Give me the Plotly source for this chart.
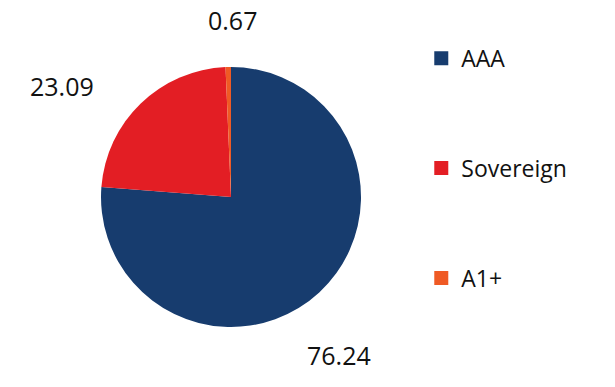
import math
import plotly.graph_objects as go

categories = ["AAA", "Sovereign", "A1+"]
values = [76.24, 23.09, 0.67]
colors = ["#173c6e", "#e31e24", "#ef5a24"]

W, H = 615, 387
cx, cy, R = 231, 197, 130          # pie centre / radius in pixels
label_r = 190                      # label distance from centre in pixels
label_nudge = [(-21, 19), (-37, 26), (5, 13)]   # style tweaks (px)

fig = go.Figure()
fig.add_trace(go.Pie(
    labels=categories, values=values, sort=False, direction="clockwise",
    rotation=0, marker=dict(colors=colors, line=dict(width=0)),
    textinfo="none", hoverinfo="label+value", showlegend=False,
    domain=dict(x=[(cx - R) / W, (cx + R) / W],
                y=[(H - cy - R) / H, (H - cy + R) / H]),
))

# outside value labels at slice mid-angles
total = sum(values)
cum = 0.0
for v, (ndx, ndy) in zip(values, label_nudge):
    mid = (cum + v / 2) / total * 2 * math.pi
    cum += v
    px = cx + label_r * math.sin(mid) + ndx
    py = cy - label_r * math.cos(mid) + ndy
    fig.add_annotation(x=px / W, y=1 - py / H, xref="paper", yref="paper",
                       text=f"{v:.2f}", showarrow=False,
                       font=dict(size=25, color="#111111"),
                       xanchor="center", yanchor="middle")

# legend entries (one group each, for wide vertical spacing)
for name, col in zip(categories, colors):
    fig.add_trace(go.Scatter(
        x=[None], y=[None], mode="markers", name=name, legendgroup=name,
        marker=dict(symbol="square", size=14, color=col), showlegend=True))

fig.update_layout(
    width=W, height=H, margin=dict(l=0, r=0, t=0, b=0),
    paper_bgcolor="white", plot_bgcolor="white",
    font=dict(family="Open Sans, Noto Sans, sans-serif", color="#111111"),
    xaxis=dict(visible=False), yaxis=dict(visible=False),
    legend=dict(x=0.685, y=0.905, xanchor="left", yanchor="top",
                font=dict(size=23, color="#111111"), tracegroupgap=77,
                itemsizing="trace", bgcolor="rgba(0,0,0,0)"),
)

fig.write_html("out.html")
